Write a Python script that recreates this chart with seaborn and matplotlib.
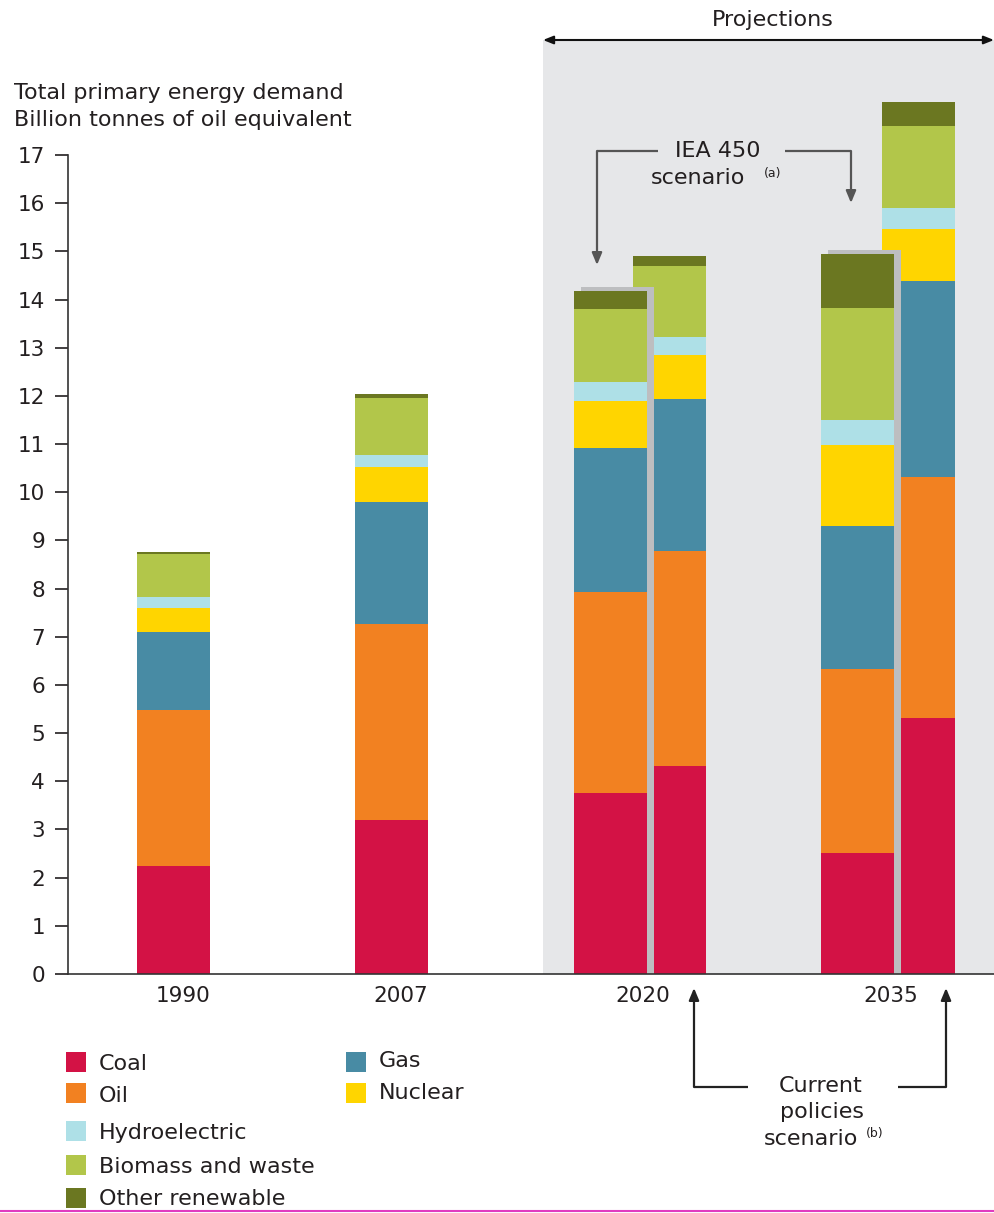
import numpy as np
import pandas as pd
import matplotlib
matplotlib.use("Agg")
import matplotlib.pyplot as plt
from matplotlib.lines import Line2D
from matplotlib.patches import Rectangle
import seaborn as sns

# ---------------- data ----------------
bars = ["1990", "2007", "2020 IEA 450", "2020 Current policies",
        "2035 IEA 450", "2035 Current policies"]
scenario = ["hist", "hist", "iea", "cp", "iea", "cp"]
year_labels = ["1990", "2007", "2020", "2035"]

coal    = [2.24, 3.20, 3.76, 4.32, 2.51, 5.31]
oil     = [3.24, 4.06, 4.17, 4.46, 3.82, 5.01]
gas     = [1.62, 2.54, 2.99, 3.15, 2.97, 4.06]
nuclear = [0.50, 0.72, 0.97, 0.92, 1.68, 1.08]
hydro   = [0.22, 0.25, 0.40, 0.37, 0.52, 0.44]
biomass = [0.90, 1.19, 1.51, 1.48, 2.32, 1.70]
other   = [0.04, 0.08, 0.38, 0.20, 1.12, 0.50]

fuels = ["Coal", "Oil", "Gas", "Nuclear", "Hydroelectric",
         "Biomass and waste", "Other renewable"]
fuel_values = [coal, oil, gas, nuclear, hydro, biomass, other]
colors = {"Coal": "#d31245", "Oil": "#f28121", "Gas": "#488ba4",
          "Nuclear": "#ffd500", "Hydroelectric": "#aee0e7",
          "Biomass and waste": "#b2c64a", "Other renewable": "#6b7721"}

# ---------------- layout (pixels) ----------------
W, H = 994, 1213
bar_x = [173, 391, 610, 669, 857, 918]      # bar centres (px == data x)
label_x = [183, 401, 643, 891]
BAR_W = 73
PX_PER_UNIT = (974 - 155) / 17.0

sns.set_theme(style="white")
plt.rcParams["font.family"] = ["DejaVu Sans"]
TXT = "#231f20"
FS = 16

fig = plt.figure(figsize=(W / 100, H / 100), dpi=100)
ax = fig.add_axes([68 / W, (H - 974) / H, (W - 68) / W, (974 - 40) / H])
ax.set_facecolor("white")
ax.axvspan(543, 994, color="#e6e7e9", zorder=0, lw=0)

df = pd.DataFrame({"bar": bars, "scen": scenario, "x": bar_x})
cum = np.cumsum(np.array(fuel_values), axis=0)
for i, f in enumerate(fuels):
    df["cum_" + f] = cum[i]


def draw_stack(sub, z):
    xs = sub["x"].to_numpy()
    mind = np.min(np.diff(np.sort(xs))) if len(xs) > 1 else 1
    w = BAR_W / mind
    for i in range(len(fuels) - 1, -1, -1):
        f = fuels[i]
        sns.barplot(data=sub, x="x", y="cum_" + f, native_scale=True,
                    orient="x", width=w, color=colors[f], saturation=1,
                    linewidth=0, errorbar=None, ax=ax, zorder=z)


# current policies + historical first
draw_stack(df[df["scen"] != "iea"], 2)

# IEA 450 shadows then bars
iea = df[df["scen"] == "iea"].copy()
shadow = iea.copy()
shadow["x"] = shadow["x"] + 7
shadow["shadow"] = shadow["cum_Other renewable"] + 4 / PX_PER_UNIT
xs = shadow["x"].to_numpy()
sns.barplot(data=shadow, x="x", y="shadow", native_scale=True, orient="x",
            width=BAR_W / np.min(np.diff(xs)), color="#bdbec0", saturation=1,
            linewidth=0, errorbar=None, ax=ax, zorder=3)
draw_stack(iea, 4)

ax.set_xlim(68, 994)
ax.set_ylim(0, (974 - 40) / PX_PER_UNIT)
ax.set_yticks(range(0, 18))
ax.set_yticklabels([str(v) for v in range(0, 18)])
ax.set_xticks(label_x)
ax.set_xticklabels(year_labels)
ax.set_xlabel("")
ax.set_ylabel("")
ax.tick_params(axis="y", direction="out", length=9.5, width=1.2, pad=7,
               labelsize=15.5, colors=TXT, left=True)
ax.tick_params(axis="x", length=0, pad=9, labelsize=15.5, colors=TXT)
for s in ["top", "right"]:
    ax.spines[s].set_visible(False)
ax.spines["left"].set_bounds(0, 17)
ax.spines["left"].set_color("#333333")
ax.spines["left"].set_linewidth(1.2)
ax.spines["bottom"].set_color("#333333")
ax.spines["bottom"].set_linewidth(1.2)
ax.spines["bottom"].set_zorder(6)


def P(x, y):
    return (x / W, 1 - y / H)


# y-axis title
fig.text(*P(14, 93), "Total primary energy demand", fontsize=FS, color=TXT,
         va="center", ha="left")
fig.text(*P(14, 120), "Billion tonnes of oil equivalent", fontsize=FS,
         color=TXT, va="center", ha="left")

# Projections arrow
fig.text(*P(773, 20), "Projections", fontsize=FS, color=TXT, ha="center",
         va="center")
ax.annotate("", xy=P(994, 40), xytext=P(543, 40), xycoords="figure fraction",
            textcoords="figure fraction", annotation_clip=False,
            arrowprops=dict(arrowstyle="<|-|>,head_length=0.5,head_width=0.2",
                            color="#111111", lw=1.5, shrinkA=0, shrinkB=0))


def elbow(pts, color, lw=1.6):
    xs = [P(*p)[0] for p in pts[:-1]]
    ys = [P(*p)[1] for p in pts[:-1]]
    fig.add_artist(Line2D(xs, ys, transform=fig.transFigure, color=color,
                          lw=lw, solid_capstyle="butt"))
    ax.annotate("", xy=P(*pts[-1]), xytext=P(*pts[-2]),
                xycoords="figure fraction", textcoords="figure fraction",
                annotation_clip=False,
                arrowprops=dict(arrowstyle="-|>,head_length=0.6,head_width=0.25",
                                color=color, lw=lw, shrinkA=0, shrinkB=0))


# IEA 450 annotation
g = "#555555"
elbow([(658, 151), (597, 151), (597, 265)], g)
elbow([(785, 151), (851, 151), (851, 203)], g)
fig.text(*P(718, 151), "IEA 450", fontsize=FS, color=TXT, ha="center",
         va="center")
fig.text(*P(651, 178), "scenario", fontsize=FS, color=TXT, ha="left",
         va="center")
fig.text(*P(764, 174), "(a)", fontsize=9, color=TXT, ha="left", va="center")

# Current policies annotation
k = "#222222"
elbow([(748, 1087), (694, 1087), (694, 988)], k)
elbow([(898, 1087), (946, 1087), (946, 988)], k)
fig.text(*P(821, 1086), "Current", fontsize=FS, color=TXT, ha="center",
         va="center")
fig.text(*P(822, 1112), "policies", fontsize=FS, color=TXT, ha="center",
         va="center")
fig.text(*P(764, 1139), "scenario", fontsize=FS, color=TXT, ha="left",
         va="center")
fig.text(*P(866, 1134), "(b)", fontsize=9, color=TXT, ha="left", va="center")

# legend (manual)
legend_items = [("Coal", 66, 1052, 99, 1064), ("Oil", 66, 1083, 99, 1096),
                ("Hydroelectric", 66, 1121, 99, 1133),
                ("Biomass and waste", 66, 1155, 99, 1167),
                ("Other renewable", 66, 1188, 99, 1199),
                ("Gas", 346, 1052, 379, 1061), ("Nuclear", 346, 1083, 379, 1093)]
for name, sx, sy, tx, ty in legend_items:
    x0, y0 = P(sx, sy + 20)
    fig.add_artist(Rectangle((x0, y0), 20 / W, 20 / H,
                             transform=fig.transFigure,
                             facecolor=colors[name], edgecolor="none"))
    fig.text(*P(tx, ty), name, fontsize=FS, color=TXT, ha="left",
             va="center")

# bottom magenta rule
fig.add_artist(Line2D([0, 1], [P(0, 1211)[1]] * 2, transform=fig.transFigure,
                      color="#e03cc0", lw=1.5))

fig.savefig("out.png", dpi=100)
